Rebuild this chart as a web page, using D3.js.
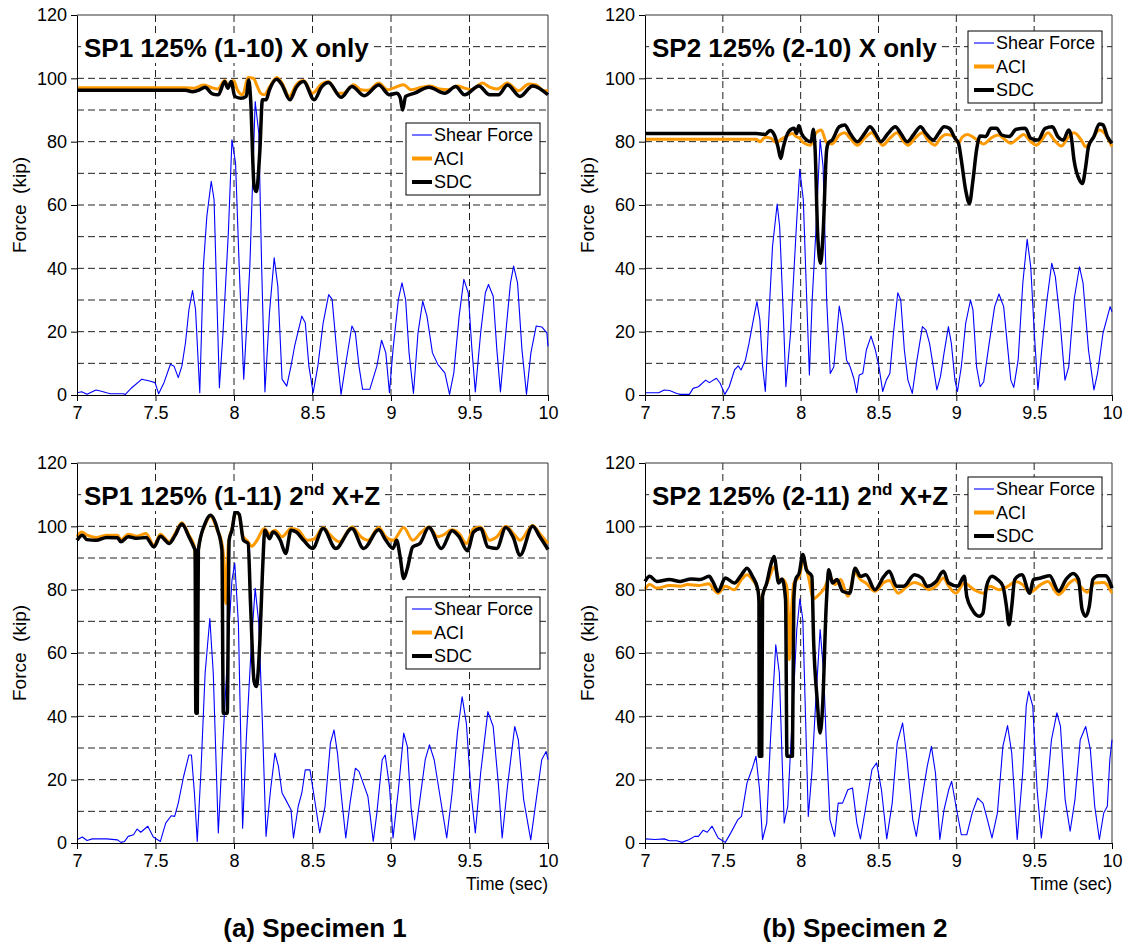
<!DOCTYPE html>
<html>
<head>
<script src="https://d3js.org/d3.v7.min.js"></script>
<style>
  body { margin: 0; background: #fff; }
  svg { font-family: "Liberation Sans", Arial, sans-serif; }
  .grid line { stroke: #222; stroke-width: 1; stroke-dasharray: 7,4; }
  .axis text { font-size: 18px; fill: #000; }
  .axis path, .axis line { stroke: #000; }
  .title { font-size: 26px; font-weight: bold; }
  .legend text { font-size: 18px; }
  .ylab { font-size: 19px; white-space: pre; }
  .xlab { font-size: 17.5px; }
  .caption { font-size: 26px; font-weight: bold; }
</style>
</head>
<body>
<svg id="chart" width="1128" height="945"></svg>
<script>
// axis ticks
const timeTicks = [7, 7.5, 8, 8.5, 9, 9.5, 10];
const forceTicks = [0, 20, 40, 60, 80, 100, 120];
const forceGrid = [10, 20, 30, 40, 50, 60, 70, 80, 90, 100, 110];
const timeGrid = [7.5, 8, 8.5, 9, 9.5];
const seriesNames = ["Shear Force", "ACI", "SDC"];

// SP1 125% (1-10) X only   [time (sec), force (kip)]
const sp1xShear = [[7.000,0.7],[7.030,1.0],[7.064,0.2],[7.121,1.6],[7.155,1.2],[7.189,0.7],[7.212,0.4],[7.292,0.4],[7.308,0.2],[7.349,2.3],[7.413,5.0],[7.463,4.4],[7.497,3.9],[7.520,0.4],[7.554,3.9],[7.595,9.7],[7.618,9.1],[7.645,5.5],[7.668,9.1],[7.691,16.5],[7.713,27],[7.736,33],[7.755,27],[7.782,0.7],[7.805,40.7],[7.827,56.4],[7.855,67.5],[7.873,61.7],[7.907,2.3],[7.930,19.6],[7.964,51.2],[7.987,80.6],[8.010,73.2],[8.033,40.7],[8.062,5.0],[8.083,23.9],[8.101,40.7],[8.135,92.7],[8.158,82.7],[8.176,40.7],[8.197,1.0],[8.226,26],[8.256,43.3],[8.279,34.4],[8.306,5.0],[8.336,2.8],[8.363,9.1],[8.386,15.4],[8.432,24.9],[8.454,22.8],[8.477,9.1],[8.504,0.7],[8.534,9.1],[8.568,22.8],[8.603,31.7],[8.625,30.2],[8.659,11.2],[8.682,0.2],[8.716,11.2],[8.751,21.8],[8.773,19.6],[8.796,9.1],[8.819,1.8],[8.865,1.8],[8.910,9.1],[8.940,17.3],[8.967,13.3],[8.990,0.7],[9.013,14.4],[9.047,30.2],[9.070,35.4],[9.093,30.2],[9.115,13.3],[9.143,0.5],[9.172,19.6],[9.202,29.6],[9.229,24.9],[9.264,13.3],[9.298,9.7],[9.343,7.0],[9.373,0.2],[9.400,7.0],[9.434,24.9],[9.464,36.5],[9.492,32.3],[9.514,15.4],[9.537,1.0],[9.571,19.6],[9.601,32.3],[9.621,34.9],[9.651,31.2],[9.674,14.4],[9.697,1.0],[9.731,19.6],[9.761,35.4],[9.781,40.7],[9.806,35.4],[9.834,14.4],[9.863,0.2],[9.891,13.3],[9.925,21.8],[9.960,21.5],[9.993,19.6],[10.000,15.4]];
const sp1xAci = [[7.000,97.0],[7.691,97.0],[7.748,96.9],[7.805,97.9],[7.850,97.2],[7.896,96.6],[7.941,99.3],[7.964,97.5],[7.998,99.3],[8.021,96.4],[8.055,94.8],[8.090,100.3],[8.124,100],[8.147,97.6],[8.169,95.3],[8.192,94.8],[8.226,97.2],[8.272,100.3],[8.306,98.5],[8.352,94.3],[8.397,98],[8.443,99.3],[8.500,95.3],[8.557,98.2],[8.602,99],[8.659,95.3],[8.694,95.3],[8.762,98],[8.808,96.4],[8.853,96.2],[8.922,98.5],[8.979,96.4],[9.013,96.9],[9.081,98],[9.127,96.4],[9.195,97.2],[9.252,97.6],[9.309,96.6],[9.366,96.4],[9.423,97.6],[9.469,96.9],[9.514,96.4],[9.583,98.5],[9.628,97.2],[9.674,96.6],[9.742,98.5],[9.811,96.1],[9.879,98.2],[9.925,97.9],[9.970,96.1],[10.000,96.1]];
const sp1xSdc = [[7.000,96.2],[7.691,96.2],[7.736,95.8],[7.782,96.4],[7.816,97.2],[7.862,95.1],[7.900,94.8],[7.941,99],[7.960,96.9],[7.982,99],[8.005,94.3],[8.044,93.7],[8.078,94.3],[8.094,99.5],[8.106,93.2],[8.128,65.9],[8.142,64.3],[8.165,77.4],[8.181,93.2],[8.204,93.2],[8.226,96.4],[8.272,99.7],[8.306,97.9],[8.356,93.2],[8.397,97.2],[8.443,99],[8.511,93.2],[8.557,97.2],[8.602,98.7],[8.682,94],[8.751,97.4],[8.830,94.5],[8.922,97.9],[8.990,94.8],[9.036,95.3],[9.058,94],[9.074,90],[9.093,94.3],[9.150,95.3],[9.241,97.2],[9.343,95.3],[9.412,97.4],[9.469,94.8],[9.560,97.6],[9.628,94.8],[9.685,94.8],[9.742,97.9],[9.822,94.3],[9.902,97.6],[10.000,94.8]];

// SP2 125% (2-10) X only
const sp2xShear = [[7.000,0.7],[7.088,0.7],[7.123,1.6],[7.158,1.4],[7.204,0.5],[7.227,0.2],[7.285,0.2],[7.309,2.1],[7.343,2.6],[7.390,4.7],[7.413,3.9],[7.459,5.3],[7.483,3.7],[7.513,0.2],[7.541,2.6],[7.575,7.9],[7.599,9.2],[7.617,7.9],[7.645,11],[7.668,16.3],[7.696,23.7],[7.719,29.5],[7.738,23.7],[7.756,8.9],[7.773,1.1],[7.796,24.7],[7.819,46.8],[7.849,60.3],[7.865,53.2],[7.889,24.7],[7.905,2.6],[7.935,19.5],[7.970,51],[7.994,71.3],[8.017,61.6],[8.039,30],[8.056,6.3],[8.074,30],[8.097,51],[8.125,80.7],[8.144,72.1],[8.167,30],[8.190,6.8],[8.213,8.9],[8.248,28.1],[8.271,21.6],[8.295,11],[8.318,8.9],[8.341,5.3],[8.360,0.7],[8.376,6.3],[8.399,6.8],[8.422,14.2],[8.452,18.6],[8.480,14.2],[8.503,8.9],[8.527,1.1],[8.550,4.7],[8.573,6.8],[8.596,19.5],[8.624,32.3],[8.643,30],[8.666,14.2],[8.689,4.7],[8.717,0.5],[8.747,11],[8.782,21.6],[8.805,20.5],[8.828,16.3],[8.852,8.9],[8.875,1.6],[8.898,5.8],[8.921,13.2],[8.949,21.6],[8.968,16.3],[8.991,4.7],[9.007,1.1],[9.032,8.9],[9.060,22.6],[9.091,30],[9.107,26.8],[9.130,8.9],[9.153,2.6],[9.176,4.2],[9.211,16.3],[9.246,27.9],[9.274,31.9],[9.304,27.9],[9.327,16.3],[9.350,4.7],[9.369,2.4],[9.397,11],[9.427,35.3],[9.455,49.2],[9.478,40.5],[9.501,19.5],[9.524,1.6],[9.559,19.5],[9.582,30],[9.613,41.6],[9.636,37.4],[9.664,24.7],[9.698,4.7],[9.722,8.9],[9.756,30],[9.791,40.5],[9.814,35.3],[9.849,14.2],[9.884,1.6],[9.907,6.8],[9.942,19.5],[9.965,23.7],[9.988,27.9],[10.000,26.3]];
const sp2xAci = [[7.000,80.8],[7.715,80.8],[7.738,80.0],[7.773,81.4],[7.807,81.1],[7.842,79.7],[7.877,80.8],[7.912,81.8],[7.947,82.6],[7.970,81.6],[7.994,81.1],[8.017,79.7],[8.063,78.9],[8.097,82.6],[8.132,83.7],[8.167,79.7],[8.202,79.3],[8.248,82.1],[8.283,82.8],[8.318,81.1],[8.364,78.9],[8.411,81.1],[8.457,82.8],[8.492,80.8],[8.527,78.9],[8.573,81.1],[8.620,82.8],[8.654,80.5],[8.689,78.9],[8.735,81.1],[8.782,82.8],[8.817,80.5],[8.863,78.9],[8.898,81.1],[8.933,82.3],[8.979,81.8],[9.014,79.5],[9.037,81.4],[9.072,82.3],[9.118,81.1],[9.176,79.3],[9.223,81.1],[9.269,82.1],[9.316,80.5],[9.350,79.5],[9.397,81.1],[9.432,82.3],[9.478,80],[9.513,78.9],[9.548,80.5],[9.589,82.8],[9.629,80.5],[9.675,78.6],[9.710,80.8],[9.756,82.8],[9.803,80.5],[9.831,78.4],[9.872,80.8],[9.919,83.7],[9.954,82.6],[10.000,78.4]];
const sp2xSdc = [[7.000,82.6],[7.715,82.6],[7.773,82.3],[7.803,83.5],[7.831,82.1],[7.854,78.4],[7.872,74.7],[7.889,78.4],[7.923,83.2],[7.958,84.2],[7.974,82.6],[7.988,85],[8.005,82.6],[8.039,80.5],[8.067,80],[8.081,83.9],[8.093,77.4],[8.109,51],[8.128,41.6],[8.144,51],[8.167,77.4],[8.179,79.7],[8.202,80.5],[8.248,84.7],[8.283,85.3],[8.318,82.6],[8.364,80],[8.411,82.6],[8.445,84.7],[8.480,82.6],[8.515,80],[8.561,82.6],[8.608,84.7],[8.643,82.6],[8.684,80],[8.724,82.1],[8.770,84.7],[8.805,82.6],[8.852,80.5],[8.886,82.6],[8.921,84.7],[8.956,84.2],[8.991,81.1],[9.014,79.5],[9.032,74.2],[9.060,64.7],[9.084,60.5],[9.107,67.9],[9.130,77.4],[9.153,81.8],[9.188,81.6],[9.223,84.2],[9.258,84.2],[9.292,82.1],[9.339,81.6],[9.385,83.9],[9.443,84.2],[9.478,81.1],[9.524,80.5],[9.571,84.2],[9.617,84.7],[9.652,81.6],[9.687,80.5],[9.722,83.7],[9.738,81.6],[9.756,74.2],[9.791,67.9],[9.810,66.8],[9.831,72.1],[9.849,78.4],[9.884,81.6],[9.919,85.6],[9.942,85.3],[9.970,81.6],[10.000,79.5]];

// SP1 125% (1-11) 2nd X+Z
const sp1zShear = [[7.000,1.0],[7.034,1.9],[7.064,0.8],[7.098,1.3],[7.189,1.3],[7.258,1.0],[7.280,0.2],[7.303,0.5],[7.326,2.1],[7.360,2.6],[7.383,4.4],[7.406,3.4],[7.451,5.3],[7.486,1.9],[7.531,0.5],[7.565,6.3],[7.600,8.6],[7.622,8.4],[7.645,12.6],[7.679,21],[7.713,27.8],[7.729,27.8],[7.748,15.8],[7.766,0.5],[7.789,22.1],[7.816,53.6],[7.846,70.9],[7.868,53.6],[7.900,3.2],[7.930,32.6],[7.964,64.1],[7.987,83],[8.005,88.3],[8.028,69.3],[8.055,4.7],[8.078,32.6],[8.112,64.1],[8.135,80.4],[8.158,69.3],[8.181,37.8],[8.204,2.1],[8.233,16.8],[8.261,28.4],[8.283,24.2],[8.306,15.8],[8.329,13.7],[8.363,10.5],[8.379,1.6],[8.409,11.6],[8.432,15.8],[8.454,23.1],[8.484,23.1],[8.507,15.8],[8.546,3.2],[8.580,11.6],[8.614,31.5],[8.637,35.7],[8.659,28.4],[8.682,15.8],[8.712,1.6],[8.739,12.6],[8.773,23.6],[8.796,22.6],[8.830,17.9],[8.853,14.7],[8.887,0.5],[8.910,9.5],[8.944,26.3],[8.963,27.8],[8.990,17.9],[9.013,1.6],[9.047,16.8],[9.081,34.7],[9.104,30.5],[9.127,11.6],[9.150,1.0],[9.184,13.7],[9.218,26.3],[9.245,31],[9.275,26.3],[9.309,15.8],[9.355,1.6],[9.389,15.8],[9.423,34.7],[9.453,46.2],[9.480,37.8],[9.510,15.8],[9.537,3.2],[9.571,22.1],[9.617,41.5],[9.651,36.8],[9.685,17.9],[9.708,1.6],[9.742,17.9],[9.788,36.8],[9.811,32.6],[9.845,13.7],[9.890,1.0],[9.925,13.7],[9.960,26.3],[9.988,28.9],[10.000,26.3]];
const sp1zAci = [[7.000,96.7],[7.030,98.2],[7.064,97.2],[7.121,96.5],[7.189,97.2],[7.258,97.2],[7.280,95.8],[7.326,97.5],[7.383,96.9],[7.440,97.7],[7.490,94.0],[7.531,97.5],[7.588,95.1],[7.622,97.5],[7.668,101.1],[7.713,97.2],[7.748,93.6],[7.759,86.5],[7.777,94.0],[7.816,100.5],[7.850,103.2],[7.896,98.5],[7.919,95.6],[7.937,88.3],[7.948,75.6],[7.964,94.6],[7.987,99.3],[8.010,104.4],[8.033,103.5],[8.055,97.2],[8.090,95.1],[8.112,93.7],[8.147,95.6],[8.192,99.3],[8.226,97.7],[8.261,98.8],[8.306,96.7],[8.363,99.3],[8.409,98.8],[8.466,95.6],[8.511,96.0],[8.568,99.6],[8.614,97.2],[8.671,95.1],[8.751,99.8],[8.808,96.7],[8.853,95.6],[8.922,99.6],[8.967,96.7],[9.013,95.6],[9.081,99.6],[9.138,95.6],[9.195,98.2],[9.241,99.8],[9.298,96.7],[9.332,97.2],[9.389,98.9],[9.434,97.7],[9.480,94.6],[9.526,99.3],[9.571,99.8],[9.628,95.6],[9.674,96.7],[9.731,100.0],[9.788,97.2],[9.822,95.6],[9.902,100.3],[9.948,97.7],[10.000,94.6]];
const sp1zSdc = [[7.000,95.6],[7.034,97.2],[7.064,95.8],[7.121,95.6],[7.189,96.5],[7.258,96.4],[7.280,95.1],[7.326,96.7],[7.383,96.2],[7.440,96.5],[7.490,93.5],[7.531,96.9],[7.588,94.6],[7.622,96.9],[7.668,100.7],[7.713,96.7],[7.748,93.0],[7.752,92.5],[7.757,41],[7.766,41],[7.773,92.5],[7.816,100.9],[7.850,103.5],[7.896,98.8],[7.923,92.5],[7.932,41],[7.957,41],[7.969,95.6],[7.987,98.8],[8.010,104.6],[8.033,103.8],[8.060,95.6],[8.090,94.6],[8.106,74.6],[8.128,51],[8.142,49.4],[8.165,64.1],[8.181,85.1],[8.197,98.8],[8.226,96.1],[8.249,98.2],[8.295,95.6],[8.329,91.4],[8.363,98.8],[8.397,98.2],[8.443,95.6],[8.500,93],[8.568,99.3],[8.648,93],[8.751,99.3],[8.826,93],[8.922,98.9],[8.967,95.6],[9.013,93],[9.036,95.6],[9.058,90.4],[9.081,83.5],[9.104,86.7],[9.138,93.5],[9.184,94.6],[9.241,99.6],[9.321,93],[9.389,98.6],[9.434,96.7],[9.487,92.3],[9.526,98.2],[9.571,99.3],[9.617,93.5],[9.674,93],[9.731,99.6],[9.777,96.7],[9.822,90.9],[9.902,100],[9.948,96.7],[10.000,92.7]];

// SP2 125% (2-11) 2nd X+Z
const sp2zShear = [[7.000,1.3],[7.065,1.1],[7.123,1.3],[7.157,0.7],[7.204,0.7],[7.238,0.2],[7.285,1.1],[7.319,2.1],[7.343,2.1],[7.373,4.0],[7.400,3.4],[7.431,5.3],[7.470,1.6],[7.516,0.2],[7.551,3.2],[7.597,7.4],[7.620,8.4],[7.655,18.9],[7.690,23.7],[7.713,27.4],[7.736,16.8],[7.755,1.1],[7.782,6.3],[7.806,32.6],[7.840,62.6],[7.863,53.7],[7.894,6.3],[7.917,11.6],[7.933,27.4],[7.956,48.4],[7.975,67.4],[7.995,77.1],[8.014,70.5],[8.049,8.4],[8.072,22.1],[8.095,43.2],[8.125,67.4],[8.148,53.7],[8.164,32.6],[8.188,7.4],[8.218,2.1],[8.241,12.6],[8.269,12.6],[8.303,16.8],[8.333,17.4],[8.361,6.3],[8.384,1.3],[8.419,11.6],[8.458,23.2],[8.488,25.3],[8.519,16.8],[8.553,1.3],[8.588,12.6],[8.620,31.6],[8.655,37.9],[8.681,27.4],[8.720,7.4],[8.743,2.1],[8.778,13.7],[8.813,24.2],[8.840,30.5],[8.866,22.1],[8.894,1.1],[8.921,10.5],[8.951,16.8],[8.970,19.5],[8.998,11.6],[9.032,2.6],[9.067,2.6],[9.102,9.5],[9.137,14.2],[9.171,12.6],[9.194,8.4],[9.229,1.6],[9.264,9.5],[9.299,30.5],[9.329,37.1],[9.356,28.4],[9.391,1.1],[9.426,22.1],[9.449,43.2],[9.465,47.9],[9.491,43.2],[9.519,16.8],[9.546,1.6],[9.583,16.8],[9.611,32.6],[9.646,41.1],[9.669,36.8],[9.699,13.7],[9.731,3.7],[9.762,13.7],[9.796,32.6],[9.831,36.8],[9.861,29.5],[9.889,11.6],[9.919,1.1],[9.947,9.5],[9.970,11.6],[9.986,26.3],[10.000,32.6]];
const sp2zAci = [[7.000,80.2],[7.030,81.6],[7.076,80.5],[7.157,81.3],[7.227,81.1],[7.273,81.6],[7.343,81.3],[7.412,81.9],[7.435,80.5],[7.470,78.9],[7.516,81.1],[7.574,80],[7.620,83.2],[7.655,84.7],[7.690,83.2],[7.725,80],[7.741,75.8],[7.759,78.9],[7.794,83.2],[7.833,87.2],[7.863,83.2],[7.887,83.2],[7.910,81.1],[7.921,71.6],[7.928,57.9],[7.940,71.6],[7.956,82.1],[7.991,84.2],[8.019,89.5],[8.049,84.2],[8.083,77.1],[8.106,77.9],[8.153,80.5],[8.188,84],[8.222,81.6],[8.257,83.2],[8.303,77.9],[8.350,85.3],[8.384,83.2],[8.419,82.1],[8.477,79.5],[8.535,82.3],[8.569,82.9],[8.627,78.9],[8.685,81.1],[8.731,82.3],[8.789,81.1],[8.824,80.0],[8.870,81.1],[8.917,83.7],[8.951,81.1],[8.998,78.9],[9.051,82.1],[9.113,80],[9.171,78.9],[9.218,81.1],[9.275,80],[9.333,81.1],[9.380,82.6],[9.426,81.6],[9.472,79.2],[9.542,81.6],[9.588,82.6],[9.657,78.4],[9.727,82.1],[9.762,83.2],[9.796,81.1],[9.843,79.2],[9.889,82.1],[9.947,82.3],[10.000,78.9]];
const sp2zSdc = [[7.000,82.6],[7.030,84.2],[7.076,82.6],[7.157,83.2],[7.227,82.6],[7.296,83.4],[7.354,83.2],[7.412,84.2],[7.435,82.6],[7.470,79.5],[7.516,83.7],[7.574,82.1],[7.620,84.7],[7.655,86.8],[7.690,84.2],[7.725,80],[7.732,76],[7.734,27.4],[7.750,27.4],[7.755,77.9],[7.782,82.1],[7.806,87.4],[7.829,90.5],[7.859,82.1],[7.880,83.4],[7.903,76.8],[7.912,27.4],[7.947,27.4],[7.956,76.8],[7.968,83.2],[7.991,85.3],[8.014,91.1],[8.037,86.3],[8.072,84.2],[8.083,64.2],[8.106,45.3],[8.125,34.7],[8.141,43.2],[8.164,74.7],[8.181,86.3],[8.204,82.1],[8.234,83.2],[8.269,79.5],[8.315,78.9],[8.350,86.8],[8.384,84.2],[8.419,84.7],[8.477,80],[8.535,84.2],[8.569,85.8],[8.616,81.1],[8.662,81.1],[8.731,84.7],[8.778,83.7],[8.813,81.1],[8.870,82.6],[8.917,85.8],[8.951,82.1],[9.009,81.1],[9.051,84.2],[9.067,77.9],[9.102,73.7],[9.148,71.6],[9.171,72.6],[9.194,81.1],[9.229,84.2],[9.264,83.2],[9.299,81.1],[9.322,74.7],[9.338,68.9],[9.356,74.7],[9.375,83.2],[9.421,84.7],[9.472,78.9],[9.495,83.2],[9.542,83.7],[9.600,84.4],[9.657,79.5],[9.704,83.2],[9.750,85.1],[9.785,83.2],[9.808,73.7],[9.831,71.6],[9.854,74.7],[9.877,83.2],[9.912,84.4],[9.958,84.4],[10.000,80.5]];

const panels = [
  { title: "SP1 125% (1-10) X only", sup: null, tail: "",
    shear: sp1xShear, aci: sp1xAci, sdc: sp1xSdc,
    left: 77, right: 548, top: 15, bottom: 395, legX: 329, legY: 108, xlab: false },
  { title: "SP2 125% (2-10) X only", sup: null, tail: "",
    shear: sp2xShear, aci: sp2xAci, sdc: sp2xSdc,
    left: 645, right: 1112, top: 15, bottom: 395, legX: 323, legY: 16, xlab: false },
  { title: "SP1 125% (1-11) 2", sup: "nd", tail: " X+Z",
    shear: sp1zShear, aci: sp1zAci, sdc: sp1zSdc,
    left: 77, right: 548, top: 463, bottom: 843, legX: 329, legY: 134, xlab: true },
  { title: "SP2 125% (2-11) 2", sup: "nd", tail: " X+Z",
    shear: sp2zShear, aci: sp2zAci, sdc: sp2zSdc,
    left: 645, right: 1112, top: 463, bottom: 843, legX: 323, legY: 14, xlab: true }
];

const colors = { shear: "#0000ff", aci: "#ff9900", sdc: "#000000" };
const widths = { shear: 1.1, aci: 3, sdc: 3.5 };

const svg = d3.select("#chart");

panels.forEach(p => {
  const x = d3.scaleLinear().domain([7, 10]).range([p.left, p.right]);
  const y = d3.scaleLinear().domain([0, 120]).range([p.bottom, p.top]);
  const g = svg.append("g");

  // dashed gridlines
  const grid = g.append("g").attr("class", "grid");
  grid.selectAll(".h").data(forceGrid).join("line")
    .attr("x1", p.left).attr("x2", p.right)
    .attr("y1", d => y(d)).attr("y2", d => y(d));
  grid.selectAll(".v").data(timeGrid).join("line")
    .attr("y1", p.top).attr("y2", p.bottom)
    .attr("x1", d => x(d)).attr("x2", d => x(d));

  // plot frame (top & right)
  g.append("path")
    .attr("d", `M${p.left},${p.top}H${p.right}V${p.bottom}`)
    .attr("fill", "none").attr("stroke", "#333").attr("stroke-width", 1);

  // series: shear drawn straight, capacity curves smoothed
  const line = d3.line().x(d => x(d[0])).y(d => y(d[1]));
  const smooth = d3.line().x(d => x(d[0])).y(d => y(d[1])).curve(d3.curveMonotoneX);
  ["shear", "aci", "sdc"].forEach(k => {
    g.append("path")
      .datum(p[k])
      .attr("d", k === "shear" ? line : smooth)
      .attr("fill", "none")
      .attr("stroke", colors[k])
      .attr("stroke-width", widths[k])
      .attr("stroke-linejoin", "round");
  });

  // axes
  g.append("g").attr("class", "axis")
    .attr("transform", `translate(0,${p.bottom})`)
    .call(d3.axisBottom(x).tickValues(timeTicks).tickSize(6).tickSizeOuter(0).tickPadding(5).tickFormat(d => d));
  g.append("g").attr("class", "axis")
    .attr("transform", `translate(${p.left},0)`)
    .call(d3.axisLeft(y).tickValues(forceTicks).tickSize(6).tickSizeOuter(0).tickPadding(4));

  // y label
  g.append("text").attr("class", "ylab")
    .attr("transform", `translate(${p.left - 58},${(p.top + p.bottom) / 2}) rotate(-90)`)
    .attr("text-anchor", "middle")
    .attr("dy", "0.35em")
    .text("Force  (kip)");

  if (p.xlab) {
    g.append("text").attr("class", "xlab")
      .attr("x", p.right).attr("y", p.bottom + 47)
      .attr("text-anchor", "end")
      .text("Time (sec)");
  }

  // title with white backing
  const tg = g.append("g");
  const tt = tg.append("text").attr("class", "title")
    .attr("x", p.left + 7).attr("y", p.top + 42);
  tt.append("tspan").text(p.title);
  if (p.sup) {
    tt.append("tspan").attr("dy", -10).attr("font-size", "17px").text(p.sup);
    tt.append("tspan").attr("dy", 10).text(p.tail);
  }
  const bb = tt.node().getBBox();
  tg.insert("rect", "text")
    .attr("x", bb.x - 3).attr("y", bb.y + 2)
    .attr("width", bb.width + 6).attr("height", bb.height - 2)
    .attr("fill", "#fff");

  // legend
  const lg = g.append("g").attr("class", "legend")
    .attr("transform", `translate(${p.left + p.legX},${p.top + p.legY})`);
  lg.append("rect").attr("width", 134).attr("height", 72)
    .attr("fill", "#fff").attr("stroke", "#000").attr("stroke-width", 1);
  ["shear", "aci", "sdc"].forEach((k, i) => {
    const cy = 12 + i * 23.5;
    lg.append("line").attr("x1", 6).attr("x2", 26).attr("y1", cy).attr("y2", cy)
      .attr("stroke", colors[k]).attr("stroke-width", k === "shear" ? 1.1 : 4);
    lg.append("text").attr("x", 28).attr("y", cy).attr("dy", "0.35em").text(seriesNames[i]);
  });
});

// captions
svg.append("text").attr("class", "caption")
  .attr("x", 315).attr("y", 937).attr("text-anchor", "middle")
  .text("(a) Specimen 1");
svg.append("text").attr("class", "caption")
  .attr("x", 855).attr("y", 937).attr("text-anchor", "middle")
  .text("(b) Specimen 2");
</script>
</body>
</html>
